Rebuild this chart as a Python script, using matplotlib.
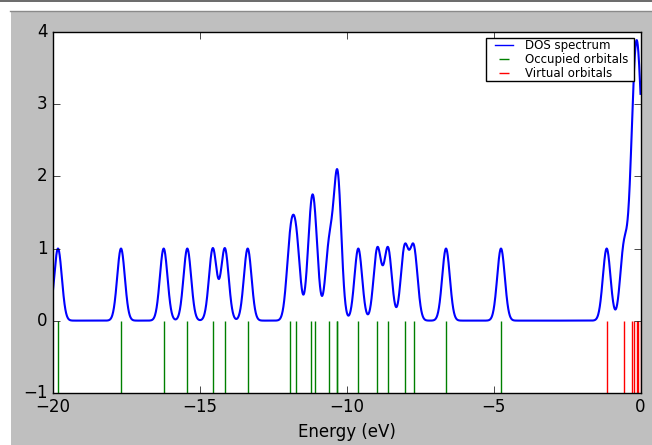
import numpy as np
import matplotlib.pyplot as plt
from matplotlib.patches import Rectangle
from matplotlib.lines import Line2D
from matplotlib.collections import LineCollection
from matplotlib.legend_handler import HandlerLine2D, HandlerLineCollection
plt.style.use("classic")

plt.rcParams['font.family'] = 'DejaVu Sans'
plt.rcParams['font.size'] = 12

occupied = [-19.83, -17.685, -16.232, -15.428, -14.56, -14.15, -13.372,
            -11.92, -11.716, -11.228, -11.094, -10.6, -10.315, -10.315,
            -9.607, -8.956, -8.596, -8.03, -7.72, -6.621, -4.749]
virtual = [-1.151, -0.562, -0.279, -0.211, -0.13, -0.07, 0.0, 0.2]
sigma = 0.13  # gaussian broadening of each level

e = np.linspace(-20, 0, 3000)
levels = np.array(occupied + virtual)
dos = np.exp(-(e[:, None] - levels[None, :])**2 / (2 * sigma**2)).sum(axis=1)

fig = plt.figure(figsize=(6.52, 4.45), dpi=100, facecolor='white')
# screenshot frame: gray figure area with a white margin and a dark top rule
fig.patches.append(Rectangle((11/652, 0), 1, (445-11)/445, transform=fig.transFigure,
                             facecolor='#bfbfbf', edgecolor='none', zorder=-2))
fig.lines.append(Line2D([10/652, 1], [(445-10.5)/445]*2, transform=fig.transFigure,
                        color='#8a8a8a', lw=1))
fig.lines.append(Line2D([0, 1], [(445-0.5)/445]*2, transform=fig.transFigure,
                        color='#505050', lw=1.2))

ax = fig.add_axes([53/652, (445-392.7)/445, (640.5-53)/652, (392.7-32.3)/445])
ax.plot(e, dos, color='b', lw=1.5, label='DOS spectrum')
ax.vlines(occupied, -1, 0, colors='g', lw=1, label='Occupied orbitals')
ax.vlines(virtual, -1, 0, colors='r', lw=1, label='Virtual orbitals')

ax.set_xlim(-20, 0)
ax.set_ylim(-1, 4)
ax.set_xticks([-20, -15, -10, -5, 0])
ax.set_yticks([-1, 0, 1, 2, 3, 4])
ax.set_xlabel("Energy (eV)")
ax.tick_params(direction='in', top=True, right=True, length=5)
leg = ax.legend(loc='upper left', bbox_to_anchor=(0.7365, 0.0, 0.2525, 0.985),
                mode='expand', borderaxespad=0, fontsize=8.5, numpoints=1,
                handlelength=2.14, handletextpad=1.0, borderpad=0.15,
                labelspacing=0.05,
                handler_map={Line2D: HandlerLine2D(xpad=0.64),
                             LineCollection: HandlerLineCollection(xpad=0.64)})
for h in leg.get_lines():
    h.set_linewidth(1)

plt.savefig("out.png", dpi=100, facecolor=fig.get_facecolor())
